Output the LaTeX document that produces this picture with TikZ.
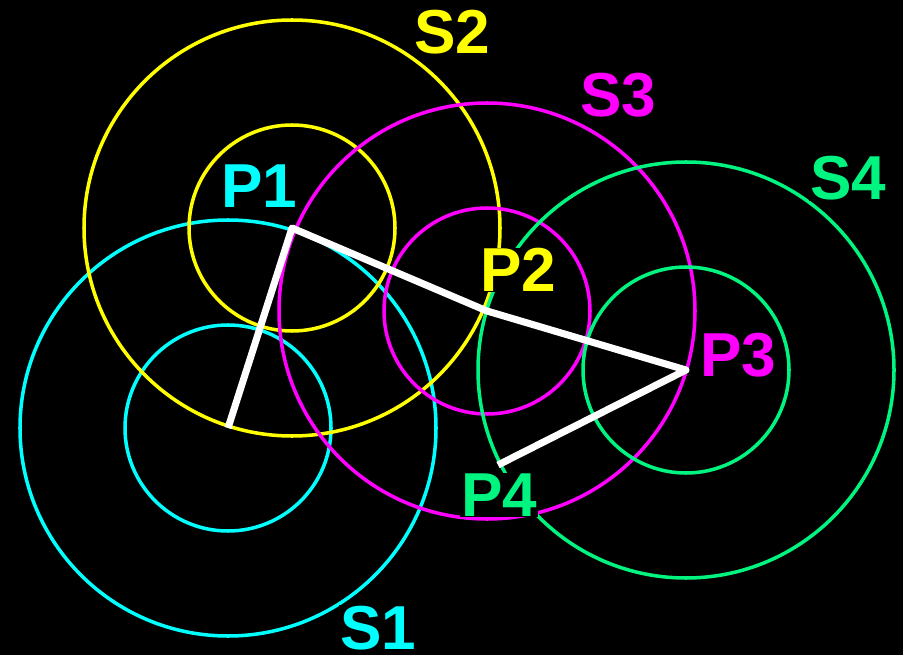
\documentclass[tikz,border=0pt]{standalone}
\usepackage{fontspec}
\setmainfont{Liberation Sans}
\usepackage{tikz}

\definecolor{sone}{RGB}{0,255,255}
\definecolor{stwo}{RGB}{255,255,0}
\definecolor{sthree}{RGB}{255,0,255}
\definecolor{sfour}{RGB}{0,245,128}

\tikzset{
  ring/.style={line width=3pt},
  link/.style={white, line width=6pt, line join=round},
  tag/.style={fill=black, inner sep=0.5pt, font=\fontsize{53}{60}\selectfont\bfseries},
}

\begin{document}
\begin{tikzpicture}[x=0.03cm, y=-0.03cm]
  \fill[black] (0,0) rectangle (903,655);
  \useasboundingbox (0,0) rectangle (903,655);
  % sites
  \coordinate (c1) at (228, 428);
  \coordinate (c2) at (292, 228);
  \coordinate (c3) at (487, 311);
  \coordinate (c4) at (686, 370);
  \coordinate (p4) at (498, 465);
  % rings
  \draw[ring, sone] (c1) circle (103) (c1) circle (208);
  \draw[ring, stwo] (c2) circle (103) (c2) circle (208);
  \draw[ring, sthree] (c3) circle (103) (c3) circle (208);
  \draw[ring, sfour] (c4) circle (103) (c4) circle (208);
  % labels
  \node[tag, text=sone] (lp1) at (259, 186) {P1};
  \node[tag, text=stwo] (lp2) at (518, 270) {P2};
  \node[tag, text=sthree] (lp3) at (738, 355) {P3};
  \node[tag, text=sfour] (lp4) at (499, 495) {P4};
  \node[tag, text=sone] (ls1) at (378, 628) {S1};
  \node[tag, text=stwo] (ls2) at (452, 32) {S2};
  \node[tag, text=sthree] (ls3) at (618, 95) {S3};
  \node[tag, text=sfour] (ls4) at (848, 178) {S4};
  % path
  \draw[link] (c1) -- (c2) -- (c3) -- (c4) -- (p4);
\end{tikzpicture}
\end{document}
